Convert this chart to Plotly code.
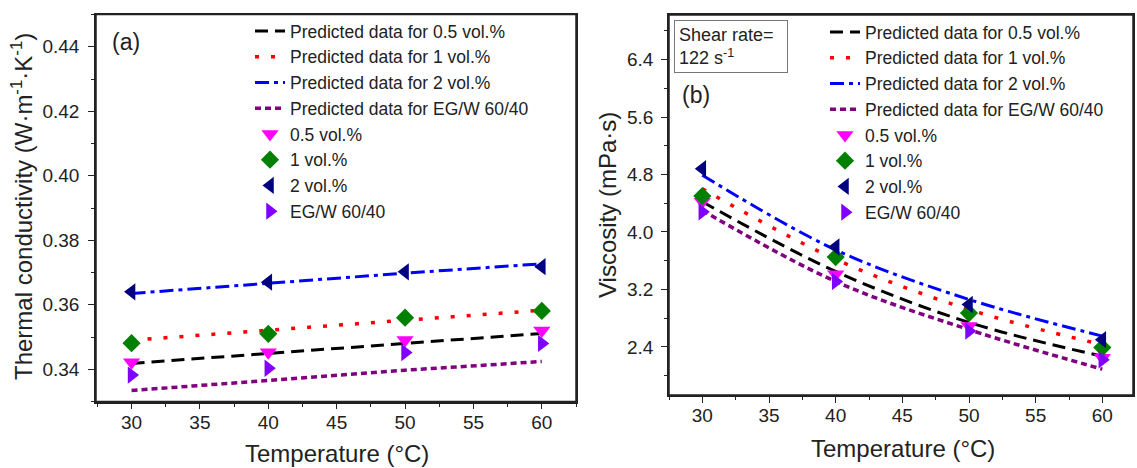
import plotly.graph_objects as go

temps = [30, 40, 50, 60]

# (a) thermal conductivity (W m-1 K-1)
tc_pred_05 = [0.3418, 0.3449, 0.3480, 0.3511]
tc_pred_1 = [0.3490, 0.3521, 0.3552, 0.3583]
tc_pred_2 = [0.3635, 0.3667, 0.3698, 0.3727]
tc_pred_base = [0.3334, 0.3366, 0.3397, 0.3424]
tc_exp_05 = [0.3422, 0.3453, 0.3491, 0.3520]
tc_exp_1 = [0.3481, 0.3510, 0.3560, 0.3581]
tc_exp_2 = [0.3640, 0.3670, 0.3702, 0.3718]
tc_exp_base = [0.3382, 0.3403, 0.3452, 0.3480]

# (b) viscosity (mPa s)
vis_pred_05 = [4.42, 3.45, 2.74, 2.27]
vis_pred_1 = [4.60, 3.62, 2.92, 2.43]
vis_pred_2 = [4.79, 3.75, 3.06, 2.55]
vis_pred_base = [4.30, 3.31, 2.64, 2.09]
vis_exp_05 = [4.42, 3.41, 2.69, 2.25]
vis_exp_1 = [4.50, 3.65, 2.87, 2.39]
vis_exp_2 = [4.88, 3.79, 2.99, 2.50]
vis_exp_base = [4.28, 3.31, 2.62, 2.22]

pred_names = ["Predicted data for 0.5 vol.%", "Predicted data for 1 vol.%",
              "Predicted data for 2 vol.%", "Predicted data for EG/W 60/40"]
exp_names = ["0.5 vol.%", "1 vol.%", "2 vol.%", "EG/W 60/40"]

line_styles = [
    dict(color="#000000", width=3, dash="13px,7px"),
    dict(color="#FF0000", width=3.5, dash="4px,12px"),
    dict(color="#0000FF", width=3, dash="14px,5px,4px,5px"),
    dict(color="#800080", width=3.5, dash="6px,4px"),
]
marker_styles = [
    dict(symbol="triangle-down", color="#FF00FF", size=15),
    dict(symbol="diamond", color="#008000", size=14),
    dict(symbol="triangle-left", color="#000080", size=15),
    dict(symbol="triangle-right", color="#8000FF", size=15),
]

FONT = "Arial, Liberation Sans, sans-serif"
W, H = 1137, 468
AX = "#222222"

fig = go.Figure()

panels = [
    ("x", "y", "legend", [tc_pred_05, tc_pred_1, tc_pred_2, tc_pred_base],
     [tc_exp_05, tc_exp_1, tc_exp_2, tc_exp_base], "linear"),
    ("x2", "y2", "legend2", [vis_pred_05, vis_pred_1, vis_pred_2, vis_pred_base],
     [vis_exp_05, vis_exp_1, vis_exp_2, vis_exp_base], "spline"),
]
for xa, ya, lg, preds, exps, shape in panels:
    for name, vals, ls in zip(pred_names, preds, line_styles):
        fig.add_trace(go.Scatter(x=temps, y=vals, mode="lines", name=name,
                                 line=dict(shape=shape, **ls),
                                 xaxis=xa, yaxis=ya, legend=lg))
    for name, vals, ms in zip(exp_names, exps, marker_styles):
        fig.add_trace(go.Scatter(x=temps, y=vals, mode="markers", name=name,
                                 marker=dict(symbol=ms["symbol"], color=ms["color"],
                                             size=ms["size"], line=dict(width=0)),
                                 xaxis=xa, yaxis=ya, legend=lg))

def px_x(p):
    return p / W

def px_y(p):
    return 1 - p / H

axis_common = dict(showline=True, linecolor=AX, linewidth=1.5, mirror=True,
                   ticks="outside", ticklen=6, tickwidth=1.3, tickcolor=AX,
                   showgrid=False, zeroline=False,
                   tickfont=dict(family=FONT, size=19, color=AX))
minor_common = dict(ticks="outside", ticklen=3.5, tickwidth=1.3, tickcolor=AX, showgrid=False)

fig.update_layout(
    width=W, height=H,
    margin=dict(l=0, r=0, t=0, b=0),
    paper_bgcolor="white", plot_bgcolor="white",
    font=dict(family=FONT, color=AX),
    xaxis=dict(domain=[px_x(96), px_x(576)], range=[27.4, 62.5], tickvals=[30, 35, 40, 45, 50, 55, 60],
               minor=dict(dtick=2.5, tick0=30, **minor_common), ticklabelstandoff=-3,
               anchor="y", **axis_common),
    yaxis=dict(domain=[px_y(401.5), px_y(14.5)], range=[0.330, 0.450], dtick=0.02, tick0=0.34,
               tickformat=".2f", ticklabelstandoff=5,
               minor=dict(dtick=0.01, tick0=0.33, **minor_common),
               anchor="x", **axis_common),
    xaxis2=dict(domain=[px_x(669), px_x(1133)], range=[27.5, 62.3], tickvals=[30, 35, 40, 45, 50, 55, 60],
                minor=dict(dtick=2.5, tick0=30, **minor_common), ticklabelstandoff=-4,
                anchor="y2", **axis_common),
    yaxis2=dict(domain=[px_y(395), px_y(15)], range=[1.73, 7.02], tickvals=[2.4, 3.2, 4.0, 4.8, 5.6, 6.4],
                tickformat=".1f", ticklabelstandoff=4,
                minor=dict(dtick=0.4, tick0=2.0, **minor_common),
                anchor="x2", **axis_common),
    legend=dict(x=px_x(250), y=px_y(13), xanchor="left", yanchor="top",
                bgcolor="rgba(0,0,0,0)", font=dict(family=FONT, size=17.5, color=AX),
                tracegroupgap=0),
    legend2=dict(x=px_x(825), y=px_y(14), xanchor="left", yanchor="top",
                 bgcolor="rgba(0,0,0,0)", font=dict(family=FONT, size=17.5, color=AX),
                 tracegroupgap=0),
    showlegend=True,
)

# plot frames (axis boxes)
for xr, yr in [("x domain", "y domain"), ("x2 domain", "y2 domain")]:
    fig.add_shape(type="rect", xref=xr, yref=yr, x0=0, x1=1, y0=0, y1=1,
                  line=dict(color=AX, width=1.5), fillcolor="rgba(0,0,0,0)", layer="above")

annotations = [
    dict(text="(a)", x=px_x(126), y=px_y(42), xanchor="center", yanchor="middle",
         font=dict(size=23)),
    dict(text="(b)", x=px_x(696), y=px_y(95), xanchor="center", yanchor="middle",
         font=dict(size=23)),
    dict(text="Temperature (°C)", x=px_x(337), y=px_y(453), xanchor="center", yanchor="middle",
         font=dict(size=24)),
    dict(text="Temperature (°C)", x=px_x(903), y=px_y(448), xanchor="center", yanchor="middle",
         font=dict(size=24)),
    dict(text="Thermal conductivity (W·m<sup>-1</sup>·K<sup>-1</sup>)", x=px_x(22), y=px_y(207),
         xanchor="center", yanchor="middle", textangle=-90, font=dict(size=24)),
    dict(text="Viscosity (mPa·s)", x=px_x(607), y=px_y(205),
         xanchor="center", yanchor="middle", textangle=-90, font=dict(size=24)),
    dict(text="Shear rate=<br>122 s<sup>-1</sup>", x=px_x(674), y=px_y(20),
         xanchor="left", yanchor="top", align="left", width=104, borderpad=4,
         bordercolor="#777777", borderwidth=1, bgcolor="white", font=dict(size=18)),
]
for a in annotations:
    a.update(xref="paper", yref="paper", showarrow=False)
    a["font"].update(family=FONT, color=AX)
fig.update_layout(annotations=annotations)

fig.write_html("out.html", config={"displayModeBar": False},
               post_script="document.body.style.margin='0';document.body.style.padding='0';"
                           "document.body.style.overflow='hidden';")
